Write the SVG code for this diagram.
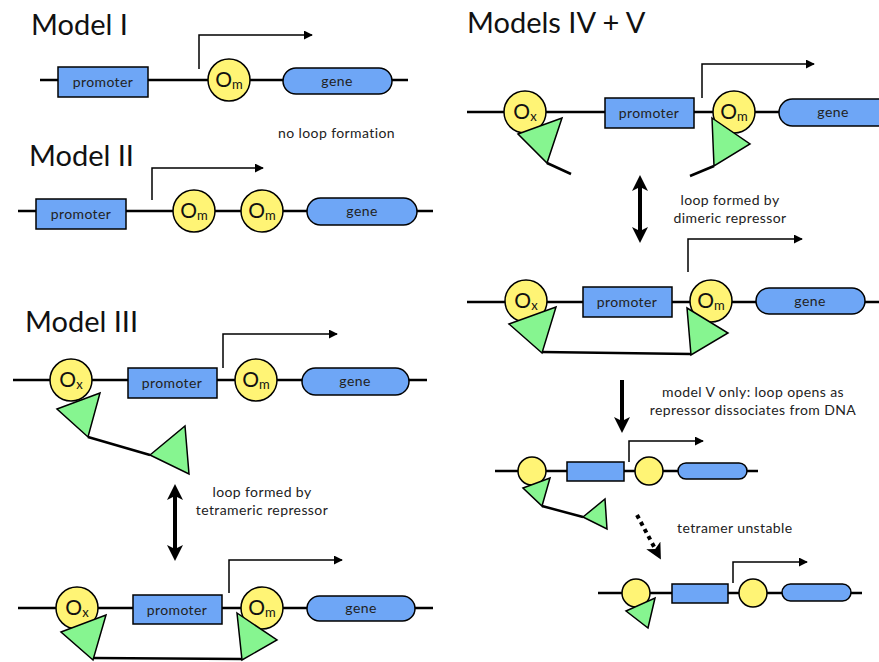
<svg xmlns="http://www.w3.org/2000/svg" width="879" height="662" viewBox="0 0 879 662">
  <defs>
    <style>
      .dna { stroke: #000; stroke-width: 2.5; fill: none; }
      .box { fill: #6ea6f6; stroke: #000; stroke-width: 1.5; }
      .op { fill: #fff475; stroke: #000; stroke-width: 1.5; }
      .rep { fill: #86f590; stroke: #000; stroke-width: 1.5; stroke-linejoin: miter; }
      .link { stroke: #000; stroke-width: 2.5; fill: none; }
      .tss { stroke: #000; stroke-width: 1.5; fill: none; marker-end: url(#tip); }
      .big { stroke: #000; stroke-width: 4; fill: none; }
      .title { font-family: Lato, "Open Sans", sans-serif; font-size: 29px; fill: #111; }
      .lbl { font-family: Lato, "Open Sans", sans-serif; font-size: 14px; letter-spacing: 0.4px; fill: #222; text-anchor: middle; }
      .note { font-family: Lato, "Open Sans", sans-serif; font-size: 14px; letter-spacing: 0.4px; fill: #222; }
      .opl { font-family: Lato, "Open Sans", sans-serif; fill: #111; text-anchor: middle; }
    </style>
    <marker id="tip" viewBox="0 0 10 10" refX="9" refY="5" markerWidth="9" markerHeight="9" markerUnits="userSpaceOnUse" orient="auto">
      <path d="M0,0 L10,5 L0,10 Z" fill="#000"/>
    </marker>
    <marker id="head" viewBox="0 0 16 16" refX="12" refY="8" markerWidth="16" markerHeight="16" markerUnits="userSpaceOnUse" orient="auto-start-reverse">
      <path d="M0,0 L16,8 L0,16 L4,8 Z" fill="#000"/>
    </marker>
  </defs>

  <!-- Model I -->
  <g id="model-1">
    <text class="title" x="31" y="35">Model I</text>
    <line class="dna" x1="40" y1="80" x2="408" y2="80"/>
    <rect class="box" x="58" y="67" width="90" height="30"/>
    <text class="lbl" x="103" y="87">promoter</text>
    <circle class="op" cx="229" cy="80" r="21"/>
    <text class="opl" x="229" y="87"><tspan font-size="21">O</tspan><tspan font-size="13" dy="2">m</tspan></text>
    <rect class="box" x="283" y="68" width="109" height="26" rx="13"/>
    <text class="lbl" x="337" y="86">gene</text>
    <path class="tss" d="M199,69 V35 H312"/>
  </g>

  <text class="note" x="278" y="138">no loop formation</text>

  <!-- Model II -->
  <g id="model-2">
    <text class="title" x="29" y="166">Model II</text>
    <line class="dna" x1="18" y1="211" x2="433" y2="211"/>
    <rect class="box" x="36" y="199" width="90" height="30"/>
    <text class="lbl" x="81" y="219">promoter</text>
    <circle class="op" cx="194" cy="211" r="21"/>
    <text class="opl" x="194" y="218"><tspan font-size="21">O</tspan><tspan font-size="13" dy="2">m</tspan></text>
    <circle class="op" cx="262" cy="211" r="21"/>
    <text class="opl" x="262" y="218"><tspan font-size="21">O</tspan><tspan font-size="13" dy="2">m</tspan></text>
    <rect class="box" x="307" y="198" width="110" height="27" rx="13.5"/>
    <text class="lbl" x="362" y="216">gene</text>
    <path class="tss" d="M152,200 V168 H263"/>
  </g>

  <!-- Model III, open -->
  <g id="model-3-open">
    <text class="title" x="25" y="332">Model III</text>
    <line class="dna" x1="13" y1="380" x2="427" y2="380"/>
    <circle class="op" cx="71" cy="380" r="21"/>
    <text class="opl" x="71" y="387"><tspan font-size="21">O</tspan><tspan font-size="13" dy="2">x</tspan></text>
    <rect class="box" x="128" y="368" width="89" height="30"/>
    <text class="lbl" x="172" y="388">promoter</text>
    <circle class="op" cx="256" cy="380" r="21"/>
    <text class="opl" x="256" y="387"><tspan font-size="21">O</tspan><tspan font-size="13" dy="2">m</tspan></text>
    <rect class="box" x="302" y="368" width="107" height="27" rx="13.5"/>
    <text class="lbl" x="355" y="386">gene</text>
    <path class="tss" d="M223,368 V334 H337"/>
    <line class="link" x1="88" y1="437" x2="150" y2="455"/>
    <polygon class="rep" points="57,409 100,393 88,437"/>
    <polygon class="rep" points="150,455 185,426 189,474"/>
  </g>

  <!-- Model III, looped -->
  <g id="model-3-loop">
    <line class="dna" x1="18" y1="608" x2="433" y2="608"/>
    <circle class="op" cx="77" cy="608" r="21"/>
    <text class="opl" x="77" y="615"><tspan font-size="21">O</tspan><tspan font-size="13" dy="2">x</tspan></text>
    <rect class="box" x="133" y="595" width="89" height="29"/>
    <text class="lbl" x="177" y="615">promoter</text>
    <circle class="op" cx="262" cy="608" r="21"/>
    <text class="opl" x="262" y="615"><tspan font-size="21">O</tspan><tspan font-size="13" dy="2">m</tspan></text>
    <rect class="box" x="307" y="596" width="108" height="25" rx="12.5"/>
    <text class="lbl" x="361" y="613">gene</text>
    <path class="tss" d="M229,593 V560 H342"/>
    <line class="link" x1="93" y1="658" x2="242" y2="659"/>
    <polygon class="rep" points="61,632 106,615 93,660"/>
    <polygon class="rep" points="237,613 277,640 242,660"/>
  </g>

  <!-- Models IV + V, open -->
  <g id="model-45-open">
    <text class="title" x="467" y="33">Models IV + V</text>
    <line class="dna" x1="467" y1="112" x2="879" y2="112"/>
    <circle class="op" cx="525" cy="112" r="21"/>
    <text class="opl" x="525" y="119"><tspan font-size="21">O</tspan><tspan font-size="13" dy="2">x</tspan></text>
    <rect class="box" x="605" y="98" width="89" height="30"/>
    <text class="lbl" x="649" y="118">promoter</text>
    <circle class="op" cx="734" cy="112" r="21"/>
    <text class="opl" x="734" y="119"><tspan font-size="21">O</tspan><tspan font-size="13" dy="2">m</tspan></text>
    <rect class="box" x="779" y="99" width="120" height="27" rx="13.5"/>
    <text class="lbl" x="833" y="117">gene</text>
    <path class="tss" d="M702,98 V64 H814"/>
    <line class="link" x1="547" y1="163" x2="571" y2="174"/>
    <polygon class="rep" points="518,134 562,118 547,163"/>
    <line class="link" x1="714" y1="166" x2="690" y2="176"/>
    <polygon class="rep" points="712,118 750,144 714,166"/>
  </g>

  <!-- Models IV + V, looped -->
  <g id="model-45-loop">
    <line class="dna" x1="467" y1="302" x2="879" y2="302"/>
    <circle class="op" cx="526" cy="301" r="21"/>
    <text class="opl" x="526" y="308"><tspan font-size="21">O</tspan><tspan font-size="13" dy="2">x</tspan></text>
    <rect class="box" x="583" y="287" width="89" height="30"/>
    <text class="lbl" x="627" y="307">promoter</text>
    <circle class="op" cx="711" cy="301" r="21"/>
    <text class="opl" x="711" y="308"><tspan font-size="21">O</tspan><tspan font-size="13" dy="2">m</tspan></text>
    <rect class="box" x="756" y="288" width="109" height="26" rx="13"/>
    <text class="lbl" x="810" y="306">gene</text>
    <path class="tss" d="M688,272 V239 H802"/>
    <line class="link" x1="542" y1="352" x2="691" y2="354"/>
    <polygon class="rep" points="509,324 556,307 542,353"/>
    <polygon class="rep" points="687,308 728,333 691,355"/>
  </g>

  <!-- Model V, loop opened -->
  <g id="model-5-open">
    <line class="dna" x1="495" y1="471" x2="758" y2="471"/>
    <circle class="op" cx="532" cy="471" r="14"/>
    <rect class="box" x="567" y="462" width="57" height="19"/>
    <circle class="op" cx="649" cy="471" r="14"/>
    <rect class="box" x="678" y="463" width="69" height="16" rx="8"/>
    <path class="tss" d="M629,462 V441 H703"/>
    <line class="link" x1="542" y1="506" x2="583" y2="517"/>
    <polygon class="rep" points="523,488 550,478 542,506"/>
    <polygon class="rep" points="583,517 605,499 607,529"/>
  </g>

  <!-- Model V, tetramer dissociated -->
  <g id="model-5-split">
    <line class="dna" x1="598" y1="593" x2="862" y2="593"/>
    <circle class="op" cx="636" cy="593" r="14"/>
    <rect class="box" x="672" y="584" width="56" height="19"/>
    <circle class="op" cx="753" cy="593" r="14"/>
    <rect class="box" x="782" y="584" width="69" height="17" rx="8.5"/>
    <path class="tss" d="M733,583 V562 H807"/>
    <polygon class="rep" points="626,611 655,598 648,628"/>
  </g>

  <!-- transitions between states -->
  <g id="connectors">
    <line class="big" x1="175" y1="488" x2="175" y2="557" marker-start="url(#head)" marker-end="url(#head)"/>
    <line class="big" x1="640" y1="179" x2="640" y2="239" marker-start="url(#head)" marker-end="url(#head)"/>
    <line class="big" x1="622" y1="380" x2="622" y2="429" marker-end="url(#head)"/>
    <line class="big" x1="637" y1="515" x2="659" y2="556" stroke-dasharray="4 4" marker-end="url(#head)"/>
  </g>

  <!-- transition notes -->
  <g id="notes">
    <text class="lbl" x="262" y="497">loop formed by</text>
    <text class="lbl" x="262" y="515">tetrameric repressor</text>
    <text class="lbl" x="730" y="205">loop formed by</text>
    <text class="lbl" x="730" y="223">dimeric repressor</text>
    <text class="lbl" x="753" y="397">model V only: loop opens as</text>
    <text class="lbl" x="753" y="415">repressor dissociates from DNA</text>
    <text class="note" x="677" y="533">tetramer unstable</text>
  </g>
</svg>
